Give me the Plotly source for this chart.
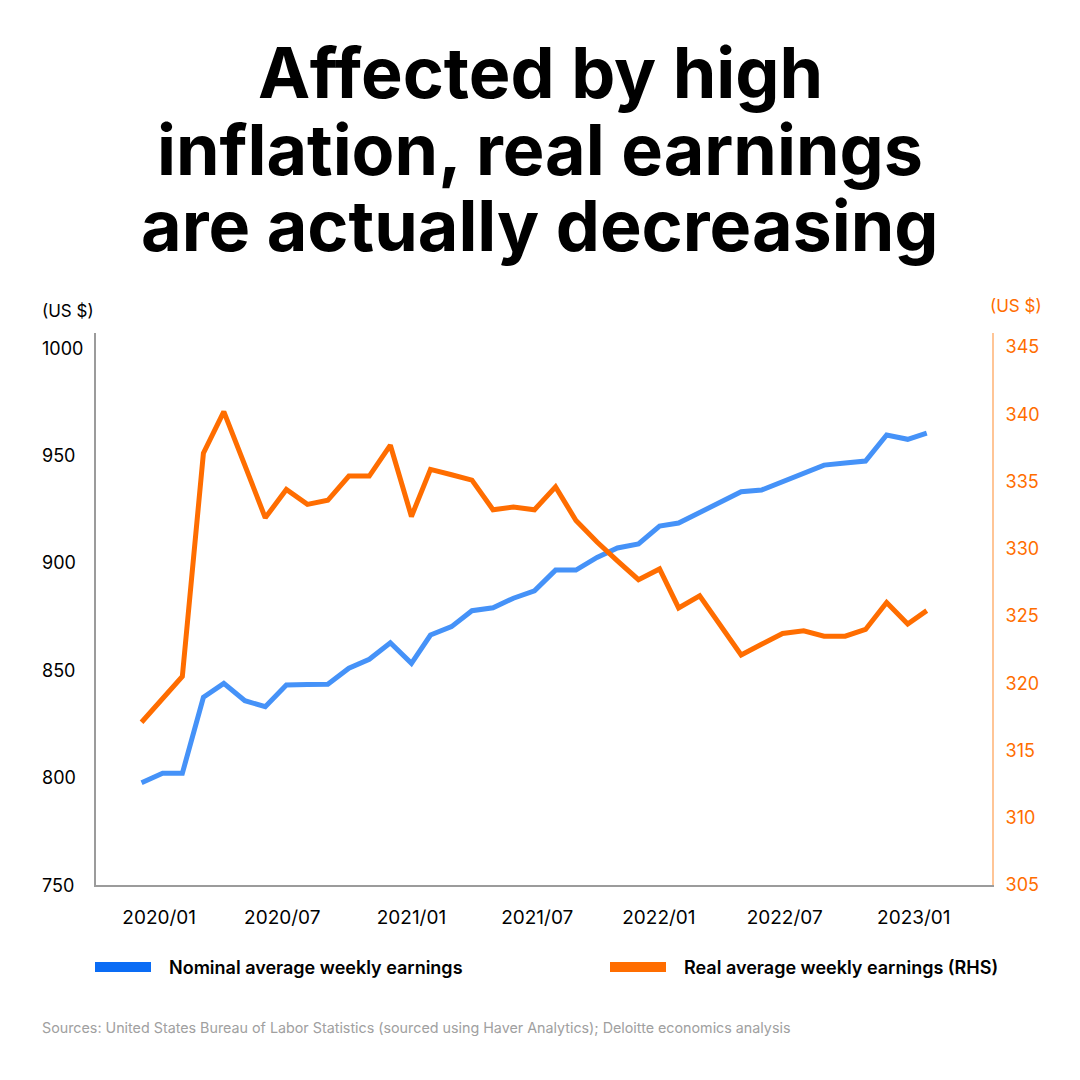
import plotly.graph_objects as go

# ---------------- data ----------------
months = [
    "2020-01-01", "2020-02-01", "2020-03-01", "2020-04-01", "2020-05-01", "2020-06-01",
    "2020-07-01", "2020-08-01", "2020-09-01", "2020-10-01", "2020-11-01", "2020-12-01",
    "2021-01-01", "2021-02-01", "2021-03-01", "2021-04-01", "2021-05-01", "2021-06-01",
    "2021-07-01", "2021-08-01", "2021-09-01", "2021-10-01", "2021-11-01", "2021-12-01",
    "2022-01-01", "2022-02-01", "2022-03-01", "2022-04-01", "2022-05-01", "2022-06-01",
    "2022-07-01", "2022-08-01", "2022-09-01", "2022-10-01", "2022-11-01", "2022-12-01",
    "2023-01-01", "2023-02-01", "2023-03-01",
]
nominal = [
    797.6, 802.0, 802.0, 837.4, 843.9, 835.8, 833.0, 843.1, 843.3, 843.5, 850.9, 855.1,
    862.8, 853.2, 866.4, 870.3, 877.7, 879.1, 883.5, 887.0, 896.6, 896.6, 902.5, 906.9,
    908.8, 917.1, 918.5, 923.4, 928.4, 933.1, 933.9, 937.8, 941.7, 945.5, 946.5, 947.4,
    959.5, 957.5, 960.4,
]
real = [
    317.1, 318.8, 320.5, 337.1, 340.2, 336.2, 332.3, 334.4, 333.3, 333.6, 335.4, 335.4,
    337.7, 332.4, 335.9, 335.5, 335.1, 332.9, 333.1, 332.9, 334.6, 332.1, 330.5, 329.1,
    327.7, 328.5, 325.6, 326.5, 324.3, 322.1, 322.9, 323.7, 323.9, 323.5, 323.5, 324.0,
    326.0, 324.4, 325.4,
]
# tick label anchor dates (labels sit slightly right of the month start in the original)
x_tick_vals = ["2020-01-27", "2020-07-26", "2021-02-01", "2021-08-05",
               "2022-01-31", "2022-08-04", "2023-02-10"]
x_tick_text = ["2020/01", "2020/07", "2021/01", "2021/07", "2022/01", "2022/07", "2023/01"]
left_ticks = [750, 800, 850, 900, 950, 1000]
right_ticks = [305, 310, 315, 320, 325, 330, 335, 340, 345]

title_lines = ["Affected by high", "inflation, real earnings", "are actually decreasing"]
name_nominal = "Nominal average weekly earnings"
name_real = "Real average weekly earnings (RHS)"
source_text = ("Sources: United States Bureau of Labor Statistics (sourced using Haver Analytics); "
               "Deloitte economics analysis")

# ---------------- style ----------------
BLUE_LINE = "#4592F8"
BLUE_KEY = "#0A6CF5"
ORANGE = "#FF6D00"
ORANGE_AXIS = "#FFC596"
GRAY = "#9B9B9B"
FONT = "Inter"


def px_x(X):
    # reference pixel -> paper x
    return (X - 96) / 896


def px_y(Y):
    # reference pixel -> paper y
    return (885 - Y) / 552


fig = go.Figure()
fig.add_trace(go.Scatter(x=months, y=nominal, mode="lines", name=name_nominal,
                         line=dict(color=BLUE_LINE, width=5), yaxis="y"))
fig.add_trace(go.Scatter(x=months, y=real, mode="lines", name=name_real,
                         line=dict(color=ORANGE, width=5), yaxis="y2"))

fig.update_layout(
    width=1072, height=1072,
    margin=dict(l=88, r=88, t=325, b=195),
    paper_bgcolor="white", plot_bgcolor="white",
    showlegend=False,
    font=dict(family=FONT, color="#000000", size=18),
    xaxis=dict(type="date", range=["2019-10-26", "2023-06-05"],
               tickvals=x_tick_vals, ticktext=x_tick_text,
               showgrid=False, zeroline=False, showline=True,
               linecolor=GRAY, linewidth=2, ticks="", ticklabelstandoff=14,
               tickfont=dict(family=FONT, size=19, color="#000000")),
    yaxis=dict(range=[750, 1007], showgrid=False, zeroline=False, showline=True,
               linecolor=GRAY, linewidth=2, tickvals=left_ticks, showticklabels=False,
               ticks=""),
    yaxis2=dict(range=[305, 346.04], overlaying="y", side="right", showgrid=False,
                zeroline=False, showline=True, linecolor=ORANGE_AXIS, linewidth=2,
                tickvals=right_ticks, ticks="", ticklabelstandoff=8,
                tickfont=dict(family=FONT, size=18, color=ORANGE)),
)

annotations = []
# title, one annotation per line
for i, line in enumerate(title_lines):
    annotations.append(dict(x=px_x(540), xref="paper", xanchor="center",
                            y=px_y(72 + 77 * i), yref="paper", yanchor="middle",
                            text=line, showarrow=False,
                            font=dict(family=FONT, size=70, color="#000000", weight=700)))
# left tick labels, left aligned
for v in left_ticks:
    annotations.append(dict(x=px_x(40), xref="paper", xanchor="left", y=v, yref="y",
                            yanchor="middle", text=str(v), showarrow=False,
                            font=dict(family=FONT, size=18, color="#000000")))
# axis unit labels
annotations.append(dict(x=px_x(40), xref="paper", xanchor="left", y=px_y(311),
                        yref="paper", yanchor="middle", text="(US $)", showarrow=False,
                        font=dict(family=FONT, size=17, color="#000000")))
annotations.append(dict(x=px_x(988), xref="paper", xanchor="left", y=px_y(306),
                        yref="paper", yanchor="middle", text="(US $)", showarrow=False,
                        font=dict(family=FONT, size=17, color=ORANGE)))
# legend labels
annotations.append(dict(x=px_x(167), xref="paper", xanchor="left", y=px_y(967),
                        yref="paper", yanchor="middle", text=name_nominal, showarrow=False,
                        font=dict(family=FONT, size=18, color="#000000", weight=600)))
annotations.append(dict(x=px_x(682), xref="paper", xanchor="left", y=px_y(967),
                        yref="paper", yanchor="middle", text=name_real, showarrow=False,
                        font=dict(family=FONT, size=18, color="#000000", weight=600)))
# sources
annotations.append(dict(x=px_x(40), xref="paper", xanchor="left", y=px_y(1028),
                        yref="paper", yanchor="middle", text=source_text, showarrow=False,
                        font=dict(family=FONT, size=14.3, color="#A0A0A0")))

shapes = [
    dict(type="rect", xref="paper", yref="paper", x0=px_x(95), x1=px_x(151),
         y0=px_y(962), y1=px_y(972), fillcolor=BLUE_KEY, line=dict(width=0)),
    dict(type="rect", xref="paper", yref="paper", x0=px_x(610), x1=px_x(666),
         y0=px_y(962), y1=px_y(972), fillcolor=ORANGE, line=dict(width=0)),
]
fig.update_layout(annotations=annotations, shapes=shapes)

fig.write_html("out.html")
